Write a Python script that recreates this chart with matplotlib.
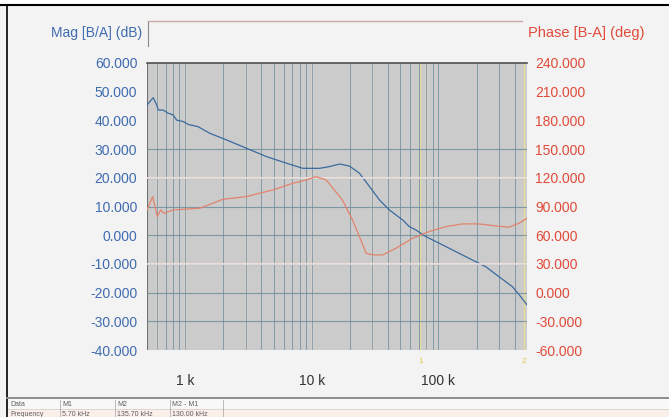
import matplotlib
matplotlib.use("Agg")
import matplotlib.pyplot as plt
from matplotlib.lines import Line2D
from matplotlib.patches import Rectangle
from matplotlib.ticker import FixedLocator, LogLocator, NullFormatter, FuncFormatter

# ---------------- data ----------------
mag_freq = [500, 560, 596, 614, 672, 736, 805, 857, 966, 1057, 1267, 1566,
            2122, 3048, 4380, 6295, 8505, 11520, 13800, 16560, 19820, 23770,
            28500, 34190, 40950, 52170, 58880, 66500, 79600, 101400, 154700,
            236600, 301300, 383000, 445700, 500000]
mag_db = [45.4, 47.9, 45.4, 43.6, 43.6, 42.5, 41.9, 40.1, 39.6, 38.6, 37.8, 35.5,
          33.2, 30.3, 27.4, 25.1, 23.3, 23.3, 23.9, 24.8, 24.1, 21.6,
          17.0, 12.3, 8.8, 5.3, 3.0, 1.8, -0.5, -2.8, -6.9,
          -11.0, -14.5, -17.9, -21.4, -24.3]

ph_freq = [500, 527, 554, 578, 602, 641, 680, 736, 805, 966, 1307, 1995, 3048,
           3655, 4935, 7096, 9040, 10840, 13000, 17460, 20940, 23770, 26870,
           30270, 36300, 46240, 62500, 84500, 114500, 154700, 209300, 283700,
           360800, 432500, 500000]
ph_deg = [86.4, 93.4, 100.3, 90.0, 79.5, 86.4, 82.9, 84.6, 86.4, 87.1, 88.2, 97.6, 100.3,
          103.1, 107.3, 114.3, 117.7, 121.2, 117.7, 96.8, 76.0, 58.5, 41.2,
          39.4, 39.4, 46.4, 56.8, 63.8, 69.0, 71.8, 71.8, 69.7,
          68.4, 72.5, 77.7]

mag_ticks = [60, 50, 40, 30, 20, 10, 0, -10, -20, -30, -40]
ph_ticks = [240, 210, 180, 150, 120, 90, 60, 30, 0, -30, -60]
x_ticks = [1e3, 1e4, 1e5]
x_tick_labels = ["1 k", "10 k", "100 k"]
mag_grid = [30, 20, 10, 0, -10, -20, -30]
ph_light_grid = [120, 30]
light_vlines = [600, 1000, 3000, 10000, 30000, 80000]
cursor_freqs = [72000, 470000]
cursor_names = ["1", "2"]

table_header = ["Data", "M1", "M2", "M2 - M1"]
table_row = ["Frequency", "5.70 kHz", "135.70 kHz", "130.00 kHz"]

# ---------------- figure ----------------
W, H = 669, 417
fig = plt.figure(figsize=(W / 100, H / 100), dpi=100)
fig.patch.set_facecolor("#f3f3f3")
plt.rcParams["font.family"] = ["Liberation Sans", "DejaVu Sans"]

def fx(x):
    return x / W

def fy(y):
    return 1 - y / H

# white strip above black top line
fig.add_artist(Rectangle((0, fy(5)), 1, 5 / H, transform=fig.transFigure,
                         facecolor="white", edgecolor="none", zorder=0))
fig.add_artist(Line2D([0, 1], [fy(5), fy(5)], transform=fig.transFigure,
                      color="black", lw=1.5))
fig.add_artist(Line2D([fx(7), fx(7)], [fy(5), fy(417)], transform=fig.transFigure,
                      color="black", lw=1.2))

# header
fig.text(fx(142), fy(33), "Mag [B/A] (dB)", color="#3f6cb0", fontsize=10,
         ha="right", va="center")
fig.text(fx(528), fy(33), "Phase [B-A] (deg)", color="#e04a3a", fontsize=10.5,
         ha="left", va="center")
fig.add_artist(Line2D([fx(148), fx(148)], [fy(21), fy(46)], transform=fig.transFigure,
                      color="#8a8a8a", lw=0.8))
fig.add_artist(Line2D([fx(148), fx(522)], [fy(21), fy(21)], transform=fig.transFigure,
                      color="#c9aaa5", lw=1.0))

# axes
left, right, top, bottom = 147, 527, 63, 350
ax = fig.add_axes([fx(left), fy(bottom), (right - left) / W, (bottom - top) / H])
ax.set_facecolor("#cbcbcb")
ax.set_xscale("log")
ax.set_xlim(500, 500000)
ax.set_ylim(-40, 60)

ax.xaxis.set_major_locator(FixedLocator(x_ticks))
ax.xaxis.set_major_formatter(FuncFormatter(lambda v, p: x_tick_labels[x_ticks.index(v)] if v in x_ticks else ""))
ax.xaxis.set_minor_locator(LogLocator(base=10, subs=[2, 3, 4, 5, 6, 7, 8, 9], numticks=20))
ax.xaxis.set_minor_formatter(NullFormatter())
ax.tick_params(axis="x", which="both", length=0, pad=17, labelsize=10, labelcolor="#333333")
ax.grid(True, which="both", axis="x", color="#6a8a9c", lw=0.7, alpha=0.75)

for v in light_vlines:
    ax.axvline(v, color="#efdcd5", lw=1.0, zorder=1)
for v in cursor_freqs:
    ax.axvline(v, color="#e6dc9a", lw=1.0, zorder=1)

ax.set_yticks(mag_ticks)
ax.yaxis.set_major_formatter(FuncFormatter(lambda v, p: f"{v:.3f}"))
ax.tick_params(axis="y", length=0, pad=7, labelsize=10, labelcolor="#3f6cb0")
for v in mag_grid:
    ax.axhline(v, color="#6a8a9c", lw=0.8, alpha=0.8, zorder=1)

for s in ["left", "right", "bottom"]:
    ax.spines[s].set_visible(False)
ax.spines["top"].set_color("#505050")
ax.spines["top"].set_linewidth(1.2)
ax.axvline(500, color="#707070", lw=0.8)

ax.plot(mag_freq, mag_db, color="#3a6a9e", lw=0.9, zorder=4)

ax2 = ax.twinx()
ax2.set_ylim(-60, 240)
ax2.set_yticks(ph_ticks)
ax2.yaxis.set_major_formatter(FuncFormatter(lambda v, p: f"{v:.3f}"))
ax2.tick_params(axis="y", length=0, pad=6, labelsize=10, labelcolor="#e04a3a")
for s in ["left", "right", "bottom", "top"]:
    ax2.spines[s].set_visible(False)
for v in ph_light_grid:
    ax2.axhline(v, color="#f2e4e0", lw=1.2, zorder=2)
ax2.plot(ph_freq, ph_deg, color="#e2836c", lw=0.9, zorder=4)

# cursor markers below the plot
for f, n in zip(cursor_freqs, cursor_names):
    ax.annotate(n, xy=(f, 0), xycoords=("data", "axes fraction"),
                xytext=(0, -8), textcoords="offset points",
                ha="center", va="center", fontsize=6, color="#e0c850",
                annotation_clip=False)

# bottom table
fig.add_artist(Line2D([fx(7), 1], [fy(398), fy(398)], transform=fig.transFigure,
                      color="#8c8c8c", lw=1.4))
fig.add_artist(Rectangle((fx(8), fy(409)), 1, 10 / H, transform=fig.transFigure,
                         facecolor="#f8f8f8", edgecolor="none"))
fig.add_artist(Rectangle((fx(8), 0), 1, fy(409), transform=fig.transFigure,
                         facecolor="#fbefe9", edgecolor="none"))
fig.add_artist(Line2D([fx(8), 1], [fy(409), fy(409)], transform=fig.transFigure,
                      color="#d8d0cc", lw=0.6))
col_x = [10, 62, 117, 172]
for xs in [60, 115, 170, 223]:
    fig.add_artist(Line2D([fx(xs), fx(xs)], [fy(400), 0], transform=fig.transFigure,
                          color="#b0b0b0", lw=0.6))
for x0, t in zip(col_x, table_header):
    fig.text(fx(x0), fy(404.5), t, fontsize=5, color="#606060", ha="left", va="center")
for x0, t in zip(col_x, table_row):
    fig.text(fx(x0), fy(415), t, fontsize=5, color="#606060", ha="left", va="center")

fig.savefig("out.png", dpi=100, facecolor=fig.get_facecolor())
